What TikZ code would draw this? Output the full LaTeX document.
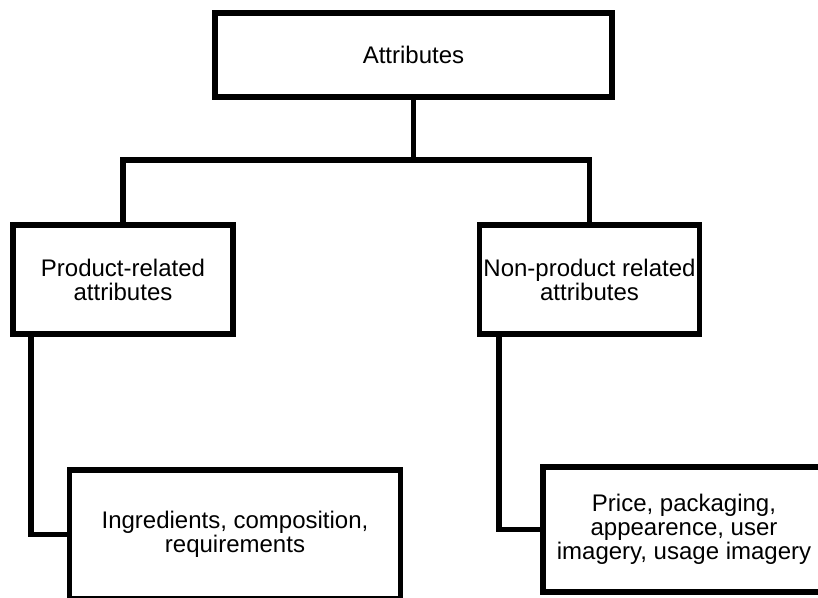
\documentclass[tikz,border=0pt]{standalone}
\usepackage{fontspec}
\setmainfont{Liberation Sans}
\tikzstyle{AttrNode}=[rectangle, draw=black, line width=5.5pt, align=center, inner sep=0pt, font=\fontsize{24}{24}\selectfont]
\tikzstyle{TopNode}=[AttrNode, minimum width=397pt, minimum height=84pt]
\tikzstyle{MidNode}=[AttrNode, minimum width=220pt, minimum height=109pt]
\tikzstyle{LinkEdge}=[line width=5.5pt]

\begin{document}
\begin{tikzpicture}[x=1pt,y=-1pt]
\clip (0,0) rectangle (818,597);
\node[TopNode](ATTR) at (413.5,55) {Attributes};
\node[MidNode](PROD) at (123,279.5) {Product-related\\attributes};
\node[MidNode](NONPROD) at (589.5,279.5) {Non-product related\\attributes};
\node[AttrNode, minimum width=331pt, minimum height=129pt](INGR) at (235,534.5) {Ingredients, composition,\\requirements};
\node[AttrNode, minimum width=282pt, minimum height=125pt](PRICE) at (684,529.5) {Price, packaging,\\appearence, user\\imagery, usage imagery};

\draw[LinkEdge](ATTR.south) -- ++(0,60) -| (PROD.north);
\draw[LinkEdge](ATTR.south) ++(0,60) -| (NONPROD.north);
\draw[LinkEdge](PROD.south west) ++(20.5,0) |- (INGR.west);
\draw[LinkEdge](NONPROD.south west) ++(22,0) |- (PRICE.west);
\end{tikzpicture}
\end{document}
